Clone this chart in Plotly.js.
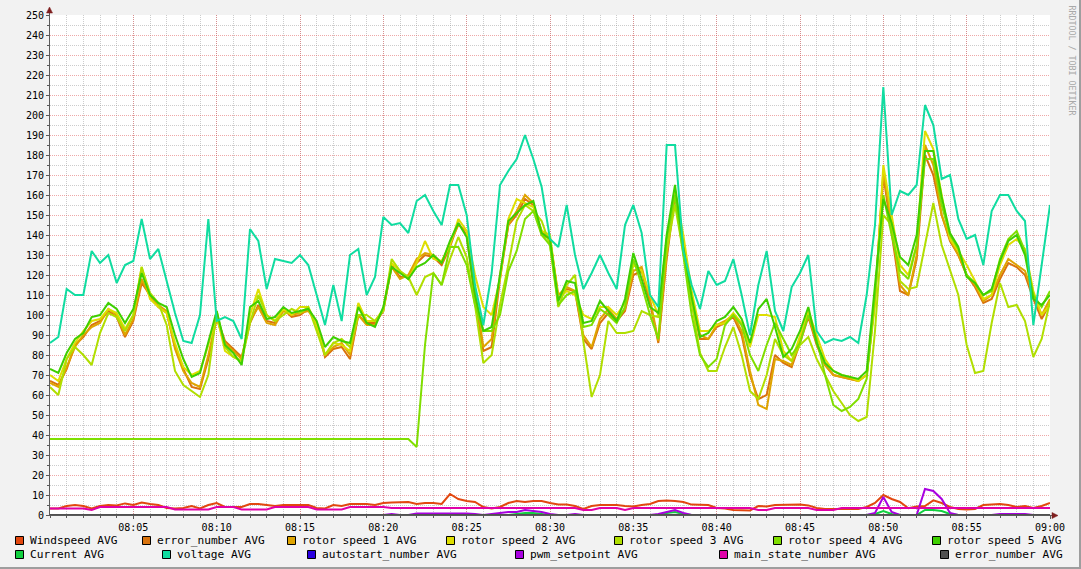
<!DOCTYPE html>
<html><head><meta charset="utf-8">
<script src="https://cdn.plot.ly/plotly-3.0.1.min.js"></script>
<style>
html,body{margin:0;padding:0;background:#f2f2f2;overflow:hidden}
#wrap{position:relative;width:1081px;height:569px}
#chart{width:1081px;height:569px}
.edgeB{position:absolute;left:0;bottom:0;width:1081px;height:2px;background:#9e9e9e}
.edgeR{position:absolute;right:0;top:0;width:2px;height:569px;background:#9e9e9e}
</style></head>
<body><div id="wrap"><div id="chart"></div><div class="edgeB"></div><div class="edgeR"></div></div>
<script>
// ---- time axis: 30 s samples from 08:00 to 09:00 ----
const startTime = '2024-01-01T08:00:00';
const endTime = '2024-01-01T09:00:00';
const stepSeconds = 30;
const sampleCount = 121;

// ---- series values ----
const windspeed = [3.3,3.3,4.5,5,4.5,3.3,4.5,5,4.8,5.8,5,6.2,5.5,5,3.5,3.3,3.5,4.5,3.3,5,6,
4,4,4,5.5,5.5,5,4.5,5,5,5,5,3.5,3.3,5,4.5,5.5,5.5,5.5,5,6,
6.2,6.2,6.5,5.5,6,6,5.5,10.5,8,7,6.5,4,3.3,4,6,7,6.5,7,7,6,
5.2,5.2,4.5,3,4.5,5,5,5,4.5,4.3,5,5.5,7,7.3,7,6.5,5.2,5.2,5,3.5,
3.3,2.5,2.3,2.3,4.5,4.3,5,5,5.2,5.2,4.8,3.5,3,3,3,3,3,4,6,10,
8,6.5,3.4,4.3,4.5,7.3,6,4,3,2.8,3,5,5.2,5.5,5,4,4.5,3.5,4.5,6];

const errorNumber = [67,65,73,85,89,95,97,102,99,89,97,116,110,104,101,84,73,64,63,78,99,
87,83,79,96,105,97,96,103,99,100,103,95,79,83,84,78,100,96,96,102,
125,119,119,126,130,129,125,134,146,140,108,82,84,118,145,150,158,155,142,138,
108,113,112,88,83,96,101,97,102,120,122,106,86,128,160,135,108,88,88,94,
96,99,90,70,58,60,80,76,74,86,99,85,75,70,69,68,67,70,108,170,
140,112,110,128,180,170,150,137,130,120,114,106,108,118,126,124,120,108,98,106];

const rotor1 = [66,64,74,84,90,94,96,103,100,90,98,118,109,105,102,83,72,66,64,80,98,
86,82,78,97,104,96,95,102,100,101,102,96,80,84,86,80,100,95,95,103,
124,118,120,128,131,130,126,136,145,142,112,84,88,120,145,152,160,156,140,138,
110,114,112,90,84,98,103,98,103,122,124,108,87,130,162,136,110,90,88,95,
97,100,92,72,55,53,78,77,75,88,100,86,75,70,69,68,67,70,108,172,
145,115,110,130,185,175,150,138,130,120,115,107,110,120,128,125,122,110,100,108];

const rotor2 = [70,67,78,86,92,97,98,103,101,93,100,124,108,104,101,86,74,70,72,85,100,
82,79,77,100,113,100,97,103,100,104,104,95,80,86,85,82,106,97,97,103,
126,122,118,126,137,128,127,135,148,142,120,104,100,118,148,158,156,154,142,140,
108,112,110,100,98,104,104,100,106,125,122,110,100,138,162,140,112,92,92,95,
96,101,96,84,100,100,99,82,77,90,102,90,78,72,70,69,67,70,105,175,
150,125,120,135,192,183,160,138,132,125,117,108,110,125,135,138,133,112,100,105];

const rotor3 = [64,60,78,84,80,75,91,101,99,92,100,124,111,106,95,72,65,62,59,70,102,
84,79,77,96,110,100,97,100,103,101,104,92,80,86,88,84,100,100,97,102,
128,122,119,110,119,121,115,128,139,129,105,76,80,105,125,147,155,152,147,135,
104,115,120,87,59,70,97,91,91,92,102,100,99,132,155,131,105,81,72,72,
84,94,80,62,58,70,88,80,77,85,89,78,70,62,56,50,47,49,92,150,
145,117,113,114,135,156,135,122,110,85,71,72,96,116,104,105,97,79,88,107];

const rotor4 = [38,38,38,38,38,38,38,38,38,38,38,38,38,38,38,38,38,38,38,38,38,
38,38,38,38,38,38,38,38,38,38,38,38,38,38,38,38,38,38,38,38,
38,38,38,34,85,121,115,134,134,125,105,92,92,100,122,132,148,152,140,135,
105,110,112,94,95,103,100,96,104,128,115,100,88,138,160,130,100,80,74,78,
95,100,95,80,72,85,96,88,80,86,100,88,70,55,52,54,58,68,110,160,
140,122,118,135,178,178,155,140,133,120,116,110,112,128,138,142,132,110,104,112];

const rotor5 = [73,71,81,88,91,99,100,106,103,96,103,121,110,106,104,90,78,69,71,87,102,
85,81,75,104,107,98,99,104,101,102,103,97,84,89,87,86,104,96,94,104,
124,121,118,124,126,130,126,137,146,139,110,92,94,120,147,151,155,157,141,138,
107,117,116,96,97,107,102,97,108,131,118,104,101,140,165,134,109,89,91,97,
99,104,98,86,103,108,94,79,83,92,104,86,76,72,70,69,68,72,115,158,
146,129,125,140,182,182,159,141,134,119,116,110,113,127,137,140,130,108,105,110];

const current = [0,0,0,0,0,0,0,0,0,0,0,0,0,0,0,0,0,0,0,0,0,
0,0,0,0,0,0,0,0,0,0,0,0,0,0,0,0,0,0,0,0,
0,0,0,0,0,0,0,0,0,0,0,0,0,0,0,0.5,1,1,0.5,0,
0,0,0,0,0,0,0,0,0,0,0,0,0,1,1.5,0.5,0,0,0,0,
0,0,0,0,0,0,0,0,0,0,0,0,0,0,0,0,0,0,0.5,2,
0.5,0,0,0,2.5,2.5,2,0.5,0,0,0,0,0,0,0,0,0,0,0,0];

const voltage = [86,89,113,110,110,132,126,130,116,125,127,148,128,133,117,101,87,86,100,148,97,
99,97,88,143,137,113,128,127,126,130,125,110,95,115,97,130,133,110,119,149,
145,146,141,157,160,152,145,165,165,150,115,95,121,165,172,178,190,178,164,138,
134,155,130,113,121,130,121,113,145,155,141,110,104,185,185,132,115,103,122,115,
117,128,110,90,115,132,102,92,114,121,130,92,86,88,87,89,86,110,145,214,
150,162,160,165,205,195,168,170,148,138,140,125,152,160,160,152,147,95,125,155];

const autostart = [0,0,0,0,0,0,0,0,0,0,0,0,0,0,0,0,0,0,0,0,0,
0,0,0,0,0,0,0,0,0,0,0,0,0,0,0,0,0,0,0,0,
0,0,0,0,0,0,0,0,0,0,0,0,0,0,0,0,0,0,0,0,
0,0,0,0,0,0,0,0,0,0,0,0,0,0,0,0,0,0,0,0,
0,0,0,0,0,0,0,0,0,0,0,0,0,0,0,0,0,0,0,0,
0,0,0,0,0,0,0,0,0,0,0,0,0,0,0,0,0,0,0,0];

const pwmSetpoint = [0,0,0,0,0,0,0,0,0,0,0,0,0,0,0,0,0,0,0,0,0,
0,0,0,0,0,0,0,0,0,0,0,0,0,0,0,0,0,0,0,0,
0.5,0,0,0.7,0.7,0.7,0.7,1,1,0.7,0.5,0,0.5,1,1.5,1.5,2.5,2,1.5,0.5,
0,0,0.5,0,0,0,0,0,0,0,0,0,0.5,1.5,2.5,1,0,0,0,0,
0,0,0,0,0,0,0,0,0,0,0,0,0,0,0,0,0,0,1,9,
1.5,0,0,0,13,12,8,1,0,0,0,0,0,0.5,0.5,0.5,0.5,0,0,0];

const mainState = [3.3,3.3,3.3,3.3,3.3,2.5,4,4,4,4,4,4,4,4,4,2.8,2.8,2.8,2.8,2.8,4,
4,4,2.8,2.8,2.8,2.8,4,4,4,4,4,2.8,2.8,2.8,2.8,4,4,4,4,4,
3.5,3.5,3.5,3.5,3.5,3.5,3.5,3.5,3.5,3.5,3.5,3.5,3.5,3.5,3.5,3.5,3.5,3.5,3.5,3.5,
3.5,3.5,3.5,2.5,2.5,3.5,3.5,3.5,2.5,3.5,3.5,3.5,3.5,3.5,3.5,3.5,3.5,3.5,3.5,3.5,
3.5,3.5,3.5,3.5,2.5,2.5,3.5,3.5,3.5,3.5,3.5,2.5,2.5,2.5,3.5,3.5,3.5,3.5,3.5,3.5,
3.5,3.5,3.5,3.5,3.5,3.5,3.5,3.5,3.5,3.5,3.5,3.5,3.5,3.5,3.5,3.5,3.5,3.5,3.5,3.5];

const errorNumber2 = [0,0,0,0,0,0,0,0,0,0,0,0,0,0,0,0,0,0,0,0,0,
0,0,0,0,0,0,0,0,0,0,0,0,0,0,0,0,0,0,0,0,
0,0,0,0,0,0,0,0,0,0,0,0,0,0,0,0,0,0,0,0,
0,0,0,0,0,0,0,0,0,0,0,0,0,0,0,0,0,0,0,0,
0,0,0,0,0,0,0,0,0,0,0,0,0,0,0,0,0,0,0,0,
0,0,0,0,0,0,0,0,0,0,0,0,0,0,0,0,0,0,0,0];

const seriesNames = ['Windspeed AVG','error_number AVG','rotor speed 1 AVG','rotor speed 2 AVG','rotor speed 3 AVG','rotor speed 4 AVG','rotor speed 5 AVG','Current AVG','voltage AVG','autostart_number AVG','pwm_setpoint AVG','main_state_number AVG','error_number AVG'];
const seriesValues = [windspeed, errorNumber, rotor1, rotor2, rotor3, rotor4, rotor5, current, voltage, autostart, pwmSetpoint, mainState, errorNumber2];

// ---- styles ----
const seriesColors = ['#e2470f','#d9730d','#dfa400','#dede00','#b0de00','#80de00','#3ecf00','#12d040','#10dca0','#2a00e0','#a800e0','#e000a8','#505050'];
const legendLeftPx = [15,142,287,446,614,773,932, 15,162,307,515,719,940];
const legendRowPx  = [541,541,541,541,541,541,541, 555,555,555,555,555,555];

const W = 1081, H = 569, ML = 50, MR = 31, MT = 15, MB = 54;
const PW = W - ML - MR, PH = H - MT - MB;
const px = v => (v - ML) / PW;
const py = v => (H - MB - v) / PH;
const mono = "'DejaVu Sans Mono', monospace";

const t0ms = new Date(startTime + 'Z').getTime();
const isoAt = ms => new Date(ms).toISOString().replace('Z','').replace('T',' ');
const times = [];
for (let i = 0; i < sampleCount; i++) times.push(isoAt(t0ms + i * stepSeconds * 1000));

// labelled ticks every 5 minutes, without a label at the start of the axis
const tickVals = [], tickText = [];
for (let k = 1; k <= 12; k++) {
  const ms = t0ms + k * 300000;
  const d = new Date(ms);
  tickVals.push(isoAt(ms));
  tickText.push(String(d.getUTCHours()).padStart(2,'0') + ':' + String(d.getUTCMinutes()).padStart(2,'0'));
}

const traces = seriesValues.map((vals, k) => ({
  type: 'scatter', mode: 'lines', x: times, y: vals, name: seriesNames[k],
  line: {color: seriesColors[k], width: 2}, showlegend: false, hoverinfo: 'skip'
}));

const shapes = [];
const annotations = [];
seriesNames.forEach((n, k) => {
  const x = legendLeftPx[k], yc = legendRowPx[k];
  shapes.push({type:'rect', xref:'paper', yref:'paper',
    x0: px(x + 0.5), x1: px(x + 8.5), y0: py(yc - 4.5), y1: py(yc + 3.5),
    fillcolor: seriesColors[k], line: {color:'#000', width:1}});
  annotations.push({xref:'paper', yref:'paper', x: px(x + 13), y: py(yc - 0.5),
    xanchor:'left', yanchor:'middle', showarrow:false, text: n,
    font:{family: mono, size: 11.2, color:'#000'}});
});

// axis arrows
shapes.push({type:'line', xref:'paper', yref:'paper', x0:px(49.5), x1:px(49.5), y0:py(15), y1:py(9), line:{color:'#5a5a5a', width:1}});
shapes.push({type:'path', xref:'paper', yref:'paper',
  path:`M ${px(46.5)} ${py(13)} L ${px(52.5)} ${py(13)} L ${px(49.5)} ${py(7)} Z`,
  fillcolor:'#7f1f1f', line:{color:'#7f1f1f', width:0.5}});
shapes.push({type:'line', xref:'paper', yref:'paper', x0:px(1050), x1:px(1055), y0:py(515.5), y1:py(515.5), line:{color:'#5a5a5a', width:1}});
shapes.push({type:'path', xref:'paper', yref:'paper',
  path:`M ${px(1052)} ${py(512.5)} L ${px(1052)} ${py(518.5)} L ${px(1058)} ${py(515.5)} Z`,
  fillcolor:'#7f1f1f', line:{color:'#7f1f1f', width:0.5}});

annotations.push({xref:'paper', yref:'paper', x: px(1071.5), y: py(60), showarrow:false,
  text:'RRDTOOL / TOBI OETIKER', textangle: 90, xanchor:'center', yanchor:'middle',
  font:{family: mono, size: 8.3, color:'#a8a8a8'}});

const majorGrid = 'rgba(222,81,81,0.5)';
const minorGrid = 'rgba(143,143,143,0.45)';

const layout = {
  width: W, height: H,
  margin: {l: ML, r: MR, t: MT, b: MB, pad: 0},
  paper_bgcolor: '#f2f2f2', plot_bgcolor: '#ffffff',
  showlegend: false,
  xaxis: {
    type: 'date', range: [times[0], times[times.length - 1]],
    tickmode: 'array', tickvals: tickVals, ticktext: tickText,
    showline: true, linecolor: '#5a5a5a', linewidth: 1,
    ticks: 'outside', ticklen: 3, tickcolor: '#5a5a5a',
    showgrid: true, gridcolor: majorGrid, griddash: '1px,1px', gridwidth: 1,
    minor: {dtick: 60000, tick0: times[0], showgrid: true, gridcolor: minorGrid, griddash: '1px,1px', ticks:'outside', ticklen: 2, tickcolor:'#5a5a5a'},
    tickfont: {family: mono, size: 10, color: '#000'},
    zeroline: false, fixedrange: true
  },
  yaxis: {
    range: [0, 250], dtick: 10, tick0: 0,
    showline: true, linecolor: '#5a5a5a', linewidth: 1,
    ticks: 'outside', ticklen: 3, tickcolor: '#5a5a5a',
    showgrid: true, gridcolor: majorGrid, griddash: '1px,1px', gridwidth: 1,
    minor: {dtick: 5, showgrid: true, gridcolor: minorGrid, griddash: '1px,1px', ticks:'outside', ticklen: 2, tickcolor:'#5a5a5a'},
    tickfont: {family: mono, size: 10, color: '#000'},
    zeroline: false, fixedrange: true
  },
  shapes: shapes,
  annotations: annotations
};

Plotly.newPlot('chart', traces, layout, {staticPlot: true, displayModeBar: false});
</script>
</body></html>
